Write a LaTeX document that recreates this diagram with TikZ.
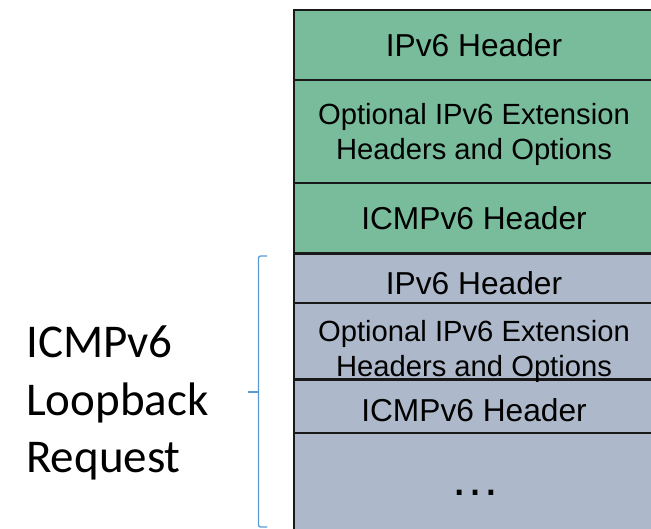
\documentclass[tikz,border=0pt]{standalone}
\usepackage{fontspec}
\setmainfont{Liberation Sans}
\newfontfamily\labelfont{Carlito}
\definecolor{hdrgreen}{HTML}{78BC9C}
\definecolor{hdrblue}{HTML}{ADB9CA}
\definecolor{bracecol}{HTML}{5B9BD5}
\begin{document}
\begin{tikzpicture}[x=1pt,y=-1pt,
  row/.style={draw=black!90, line width=2pt, anchor=north west,
              minimum width=360pt, inner sep=0pt, outer sep=0pt},
  txt/.style={font=\fontsize{31.7}{38}\selectfont, anchor=base, inner sep=0pt},
  txtsmall/.style={font=\fontsize{29.2}{35}\selectfont, anchor=base, inner sep=0pt},
  biglabel/.style={font=\labelfont\fontsize{47}{57}\selectfont, anchor=base west, inner sep=0pt},
]
\useasboundingbox (0,0) rectangle (651,529);

% outer packet: IPv6 + extension headers + ICMPv6 header
\node[row, fill=hdrgreen, minimum height=70pt]  (g1) at (294,10)  {};
\node[row, fill=hdrgreen, minimum height=103pt] (g2) at (294,80)  {};
\node[row, fill=hdrgreen, minimum height=70pt]  (g3) at (294,183) {};

% embedded loopback request
\node[row, fill=hdrblue, minimum height=49pt]  (b1) at (294,254.5) {};
\node[row, fill=hdrblue, minimum height=76pt]  (b2) at (294,303)   {};
\node[row, fill=hdrblue, minimum height=53pt]  (b3) at (294,380)   {};
\node[row, fill=hdrblue, minimum height=110pt] (b4) at (294,433)   {};

% field names
\node[txt]      (g1t)  at (474,56.7)  {IPv6 Header};
\node[txtsmall] (g2t1) at (474,125)   {Optional IPv6 Extension};
\node[txtsmall] (g2t2) at (474,160)   {Headers and Options};
\node[txt]      (g3t)  at (474,230)   {ICMPv6 Header};
\node[txt]      (b1t)  at (474,295)   {IPv6 Header};
\node[txtsmall] (b2t1) at (474,341.7) {Optional IPv6 Extension};
\node[txtsmall] (b2t2) at (474,376.7) {Headers and Options};
\node[txt]      (b3t)  at (474,421.7) {ICMPv6 Header};
\node[anchor=base, inner sep=0pt, font=\fontsize{50}{50}\selectfont] (dots) at (475,495) {…};

% brace spanning the request
\draw[bracecol, line width=1.3pt, rounded corners=2pt]
  (267,256) -- (258.5,256) -- (258.5,527) -- (267,527);
\draw[bracecol, line width=1.3pt] (248,392) -- (258.5,392);

% label
\node[biglabel] (l1) at (26,358) {ICMPv6};
\node[biglabel] (l2) at (26,415) {Loopback};
\node[biglabel] (l3) at (26,472) {Request};
\end{tikzpicture}
\end{document}
